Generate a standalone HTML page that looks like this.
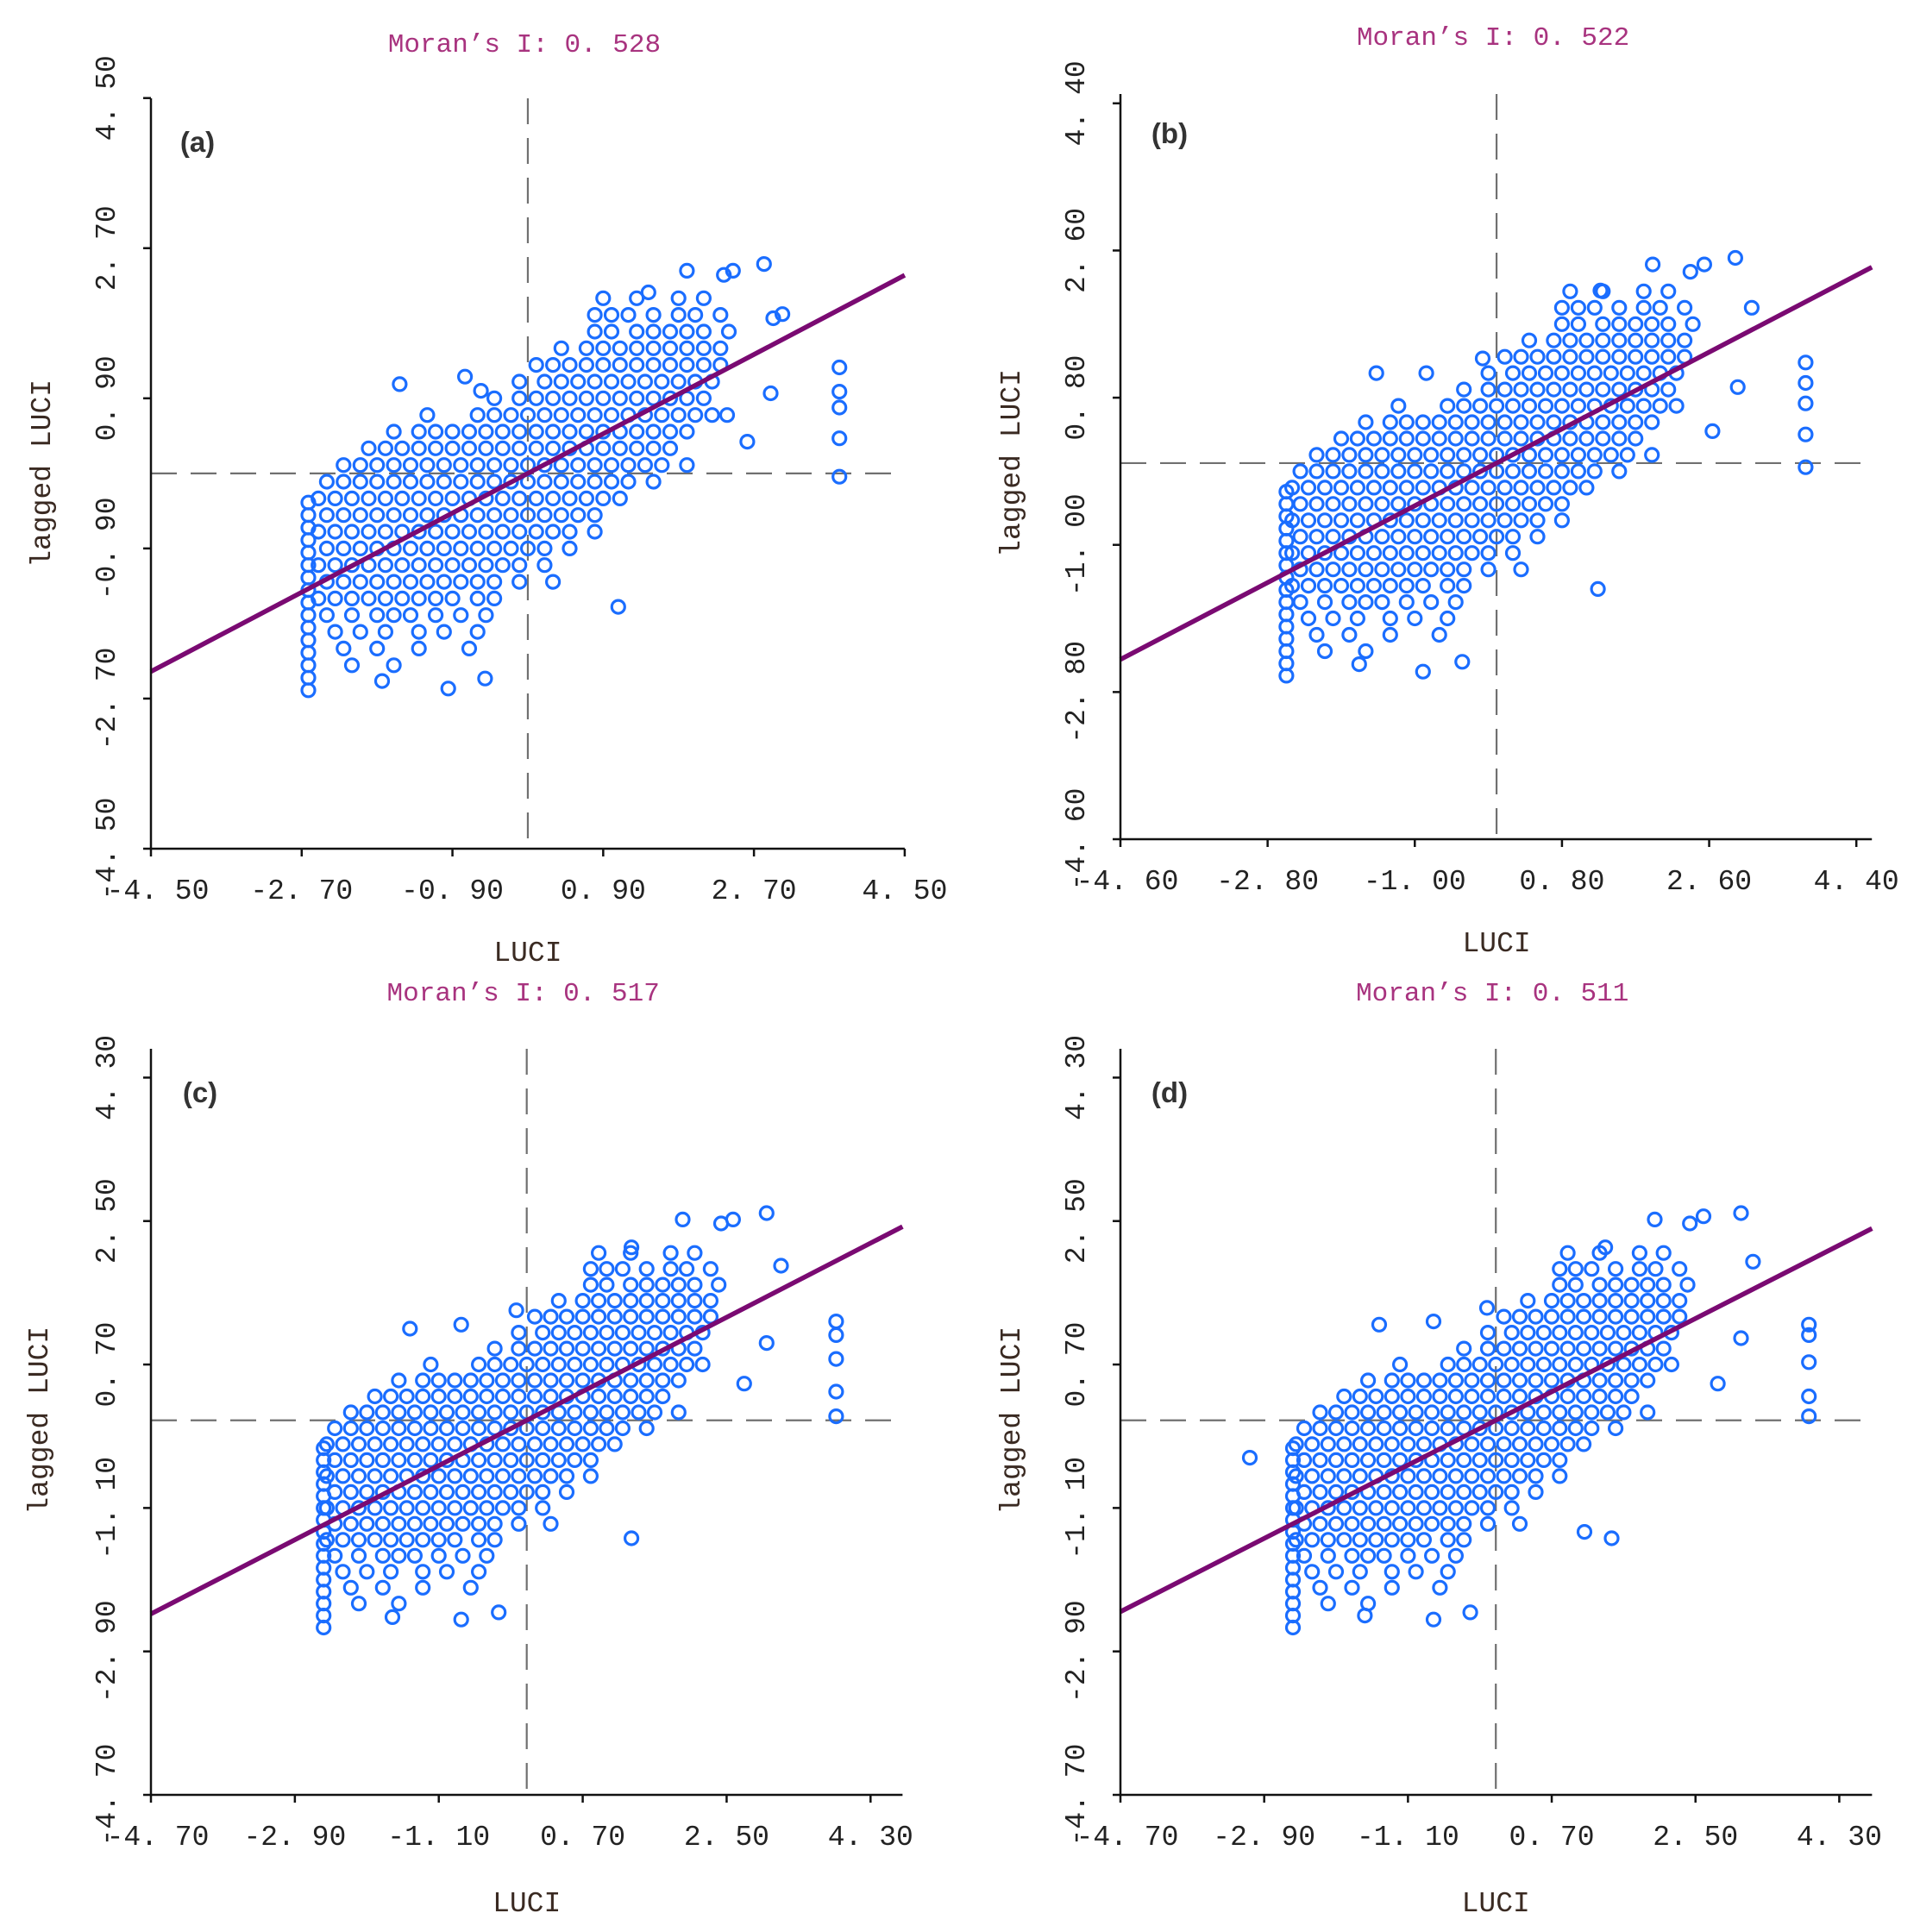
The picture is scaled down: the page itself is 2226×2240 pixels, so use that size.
<!DOCTYPE html>
<html><head><meta charset="utf-8">
<style>
html,body{margin:0;padding:0;background:#fff;}
svg{display:block;}
text{font-family:"Liberation Mono","Noto Sans CJK SC",monospace;}
</style></head>
<body>
<svg id="fig" width="2226" height="2240" viewBox="0 0 2226 2240" xmlns="http://www.w3.org/2000/svg"></svg>
<script>
// ---- data (data units) ----
const panelIds = ['a','b','c','d'];
const moranValues = [0.528, 0.522, 0.517, 0.511];
const moranLabels = ['0. 528','0. 522','0. 517','0. 511'];
const tickLabelsA = ['-4. 50','-2. 70','-0. 90','0. 90','2. 70','4. 50'];
const tickValuesA = [-4.5,-2.7,-0.9,0.9,2.7,4.5];
const tickLabelsB = ['-4. 60','-2. 80','-1. 00','0. 80','2. 60','4. 40'];
const tickValuesB = [-4.6,-2.8,-1.0,0.8,2.6,4.4];
const tickLabelsCD = ['-4. 70','-2. 90','-1. 10','0. 70','2. 50','4. 30'];
const tickValuesCD = [-4.7,-2.9,-1.1,0.7,2.5,4.3];

// dense core cloud, rows of y with x values
const bodyRowY = [2.1,1.9,1.7,1.5,1.3,1.1,0.9,0.7,0.5,0.3,0.1,-0.1,-0.3,-0.5,-0.7,-0.9,-1.1,-1.3,-1.5,-1.7,-1.9,-2.1,-2.3];
const bodyRowX = [
 [0.9,1.3,1.8,2.1],
 [0.8,1.0,1.2,1.5,1.8,2.0,2.3],
 [0.8,1.0,1.3,1.5,1.7,1.9,2.1,2.4],
 [0.4,0.7,0.9,1.1,1.3,1.5,1.7,1.9,2.1,2.3],
 [0.1,0.3,0.5,0.7,0.9,1.1,1.3,1.5,1.7,1.9,2.1,2.3],
 [-0.1,0.2,0.4,0.6,0.8,1.0,1.2,1.4,1.6,1.8,2.0,2.2],
 [-0.4,-0.1,0.1,0.3,0.5,0.7,0.9,1.1,1.3,1.5,1.7,1.9,2.1],
 [-1.2,-0.6,-0.4,-0.2,0,0.2,0.4,0.6,0.8,1.0,1.2,1.4,1.6,1.8,2.0,2.2],
 [-1.6,-1.3,-1.1,-0.9,-0.7,-0.5,-0.3,-0.1,0.1,0.3,0.5,0.7,0.9,1.1,1.3,1.5,1.7,1.9],
 [-1.9,-1.7,-1.5,-1.3,-1.1,-0.9,-0.7,-0.5,-0.3,-0.1,0.1,0.3,0.5,0.7,0.9,1.1,1.3,1.5,1.7],
 [-2.2,-2.0,-1.8,-1.6,-1.4,-1.2,-1.0,-0.8,-0.6,-0.4,-0.2,0,0.2,0.4,0.6,0.8,1.0,1.2,1.4,1.6,1.9],
 [-2.4,-2.2,-2.0,-1.8,-1.6,-1.4,-1.2,-1.0,-0.8,-0.6,-0.4,-0.2,0,0.2,0.4,0.6,0.8,1.0,1.2,1.5],
 [-2.5,-2.3,-2.1,-1.9,-1.7,-1.5,-1.3,-1.1,-0.9,-0.7,-0.5,-0.3,-0.1,0.1,0.3,0.5,0.7,0.9,1.1],
 [-2.4,-2.2,-2.0,-1.8,-1.6,-1.4,-1.2,-1.0,-0.8,-0.6,-0.4,-0.2,0,0.2,0.4,0.6,0.8],
 [-2.5,-2.3,-2.1,-1.9,-1.7,-1.5,-1.3,-1.1,-0.9,-0.7,-0.5,-0.3,-0.1,0.1,0.3,0.5,0.8],
 [-2.4,-2.2,-2.0,-1.8,-1.6,-1.4,-1.2,-1.0,-0.8,-0.6,-0.4,-0.2,0,0.2,0.5],
 [-2.5,-2.3,-2.1,-1.9,-1.7,-1.5,-1.3,-1.1,-0.9,-0.7,-0.5,-0.3,-0.1,0.2],
 [-2.4,-2.2,-2.0,-1.8,-1.6,-1.4,-1.2,-1.0,-0.8,-0.6,-0.4,-0.1,0.3],
 [-2.5,-2.3,-2.1,-1.9,-1.7,-1.5,-1.3,-1.1,-0.9,-0.6,-0.4],
 [-2.4,-2.1,-1.8,-1.6,-1.4,-1.1,-0.8,-0.5],
 [-2.3,-2.0,-1.7,-1.3,-1.0,-0.6],
 [-2.2,-1.8,-1.3,-0.7],
 [-2.1,-1.6]
];
// vertical column of minimum-value points
const columnX = [-2.62, -2.57, -2.54, -2.54];
const columnY = [-0.35,-0.5,-0.65,-0.8,-0.95,-1.1,-1.25,-1.4,-1.55,-1.7,-1.85,-2.0,-2.15,-2.3,-2.45,-2.6];
// per-panel outliers
const outA_x = [-1.53,-0.75,-0.56,1.08,-1.74,-0.95,-0.51,1.9,2.34,2.45,2.82,1.44,3.04,2.93,2.9,2.62,2.38,3.72,3.72,3.72,3.72,3.72];
const outA_y = [1.07,1.16,0.99,-1.6,-2.49,-2.58,-2.46,2.43,2.38,2.43,2.51,2.17,1.91,1.86,0.96,0.38,0.7,1.27,0.98,0.79,0.42,-0.04];
const outB_x = [-1.47,-0.86,-0.17,1.24,-1.68,-0.9,-0.42,1.91,2.37,2.54,2.92,1.27,3.12,2.95,2.64,3.78,3.78,3.78,3.78,3.78];
const outB_y = [1.1,1.1,1.28,-1.54,-2.46,-2.55,-2.43,2.43,2.34,2.43,2.51,2.11,1.9,0.93,0.39,1.23,0.98,0.73,0.35,-0.05];
const outC_x = [-1.46,-0.82,-0.13,1.31,-1.68,-0.82,-0.35,1.95,2.43,2.58,3.0,1.31,3.18,3.0,2.72,3.87,3.87,3.87,3.87,3.87];
const outC_y = [1.15,1.2,1.38,-1.48,-2.47,-2.5,-2.41,2.52,2.47,2.52,2.6,2.17,1.94,0.97,0.46,1.24,1.07,0.77,0.36,0.05];
const outD_x = [-3.08,-1.46,-0.78,-0.11,1.11,1.45,-1.64,-0.78,-0.32,1.99,2.43,2.6,3.07,1.37,3.22,3.07,2.78,3.92,3.92,3.92,3.92,3.92];
const outD_y = [-0.47,1.2,1.24,1.41,-1.4,-1.48,-2.45,-2.5,-2.41,2.52,2.47,2.56,2.6,2.17,1.99,1.03,0.46,1.2,1.07,0.73,0.3,0.05];

// ---- layout (pixels) ----
const layouts = [
 {x0:175, axY:984, xmin:-4.5, xmax:4.5, ymin:-4.5, sx:97.1, sy:96.7, topY:114, titleY:60, letterX:229, letterY:176, xlabY:1114, ylabX:46},
 {x0:1299, axY:973, xmin:-4.6, xmax:4.59, ymin:-4.6, sx:94.8, sy:94.8, topY:109, titleY:52, letterX:1356, letterY:166, xlabY:1103, ylabX:1170},
 {x0:175, axY:2081, xmin:-4.7, xmax:4.7, ymin:-4.7, sx:92.7, sy:92.4, topY:1216, titleY:1160, letterX:232, letterY:1278, xlabY:2216, ylabX:43},
 {x0:1299, axY:2081, xmin:-4.7, xmax:4.71, ymin:-4.7, sx:92.6, sy:92.4, topY:1216, titleY:1160, letterX:1356, letterY:1278, xlabY:2216, ylabX:1170}
];
const tickSets = [[tickValuesA,tickLabelsA],[tickValuesB,tickLabelsB],[tickValuesCD,tickLabelsCD],[tickValuesCD,tickLabelsCD]];
const outXs = [outA_x,outB_x,outC_x,outD_x];
const outYs = [outA_y,outB_y,outC_y,outD_y];

const NS = 'http://www.w3.org/2000/svg';
const svg = document.getElementById('fig');
function mk(tag, attrs, parent){
  const e = document.createElementNS(NS, tag);
  for (const k in attrs) e.setAttribute(k, attrs[k]);
  parent.appendChild(e);
  return e;
}

panelIds.forEach((id, p) => {
  const L = layouts[p];
  const X = v => L.x0 + (v - L.xmin) * L.sx;
  const Y = v => L.axY - (v - L.ymin) * L.sy;
  const g = mk('g', {}, svg);
  
  

  const xRight = X(L.xmax);
  const vd = mk('line', {x1:X(0), y1:L.topY, x2:X(0), y2:L.axY, stroke:'#707070', 'stroke-width':2.2, 'stroke-dasharray':'30 16'}, g);
  
  
  const hd = mk('line', {x1:L.x0, y1:Y(0), x2:xRight, y2:Y(0), stroke:'#707070', 'stroke-width':2.2, 'stroke-dasharray':'30 16'}, g);
  
  

  const pts = mk('g', {fill:'none', stroke:'#1a6dff', 'stroke-width':3.2}, g);
  
  
  const addPt = (x, y) => {
    const c = mk('circle', {cx:X(x).toFixed(1), cy:Y(y).toFixed(1), r:7.5}, pts);
    
    
  };
  bodyRowY.forEach((y, i) => bodyRowX[i].forEach(x => addPt(x, y)));
  columnY.forEach(y => addPt(columnX[p], y));
  outXs[p].forEach((x, i) => addPt(x, outYs[p][i]));

  const m = moranValues[p];
  const rl = mk('line', {x1:X(L.xmin), y1:Y(m*L.xmin), x2:xRight, y2:Y(m*L.xmax), stroke:'#7a0a72', 'stroke-width':5.5}, g);
  
  

  const ax = mk('path', {d:`M${L.x0} ${L.topY} V${L.axY} H${xRight}`, fill:'none', stroke:'#111', 'stroke-width':2.5}, g);
  
  

  const [tv, tl] = tickSets[p];
  tv.forEach((v, i) => {
    const xt = mk('line', {x1:X(v), y1:L.axY, x2:X(v), y2:L.axY+9, stroke:'#111', 'stroke-width':2.5}, g);
    
    
    const xl = mk('text', {x:X(v)+(i===0?8:0), y:L.axY+58, 'font-size':33, 'text-anchor':'middle', fill:'#222'}, g);
    xl.textContent = tl[i];
    
    
    const yt = mk('line', {x1:L.x0-9, y1:Y(v), x2:L.x0, y2:Y(v), stroke:'#111', 'stroke-width':2.5}, g);
    
    
    const yl = mk('text', {x:0, y:0, 'font-size':33, 'text-anchor':'middle', fill:'#222', transform:`translate(${L.x0-42},${Y(v)}) rotate(-90)`}, g);
    yl.textContent = tl[i];
    
    
  });

  const title = mk('text', {x:X(0)-4, y:L.titleY, 'font-size':31, 'text-anchor':'middle', fill:'#a8337f'}, g);
  title.textContent = "Moran’s I: " + moranLabels[p];
  
  

  const letter = mk('text', {x:L.letterX, y:L.letterY, 'font-size':33, 'font-weight':'bold', 'text-anchor':'middle', fill:'#333', style:'font-family:"Liberation Sans",sans-serif'}, g);
  letter.textContent = '(' + id + ')';
  
  

  const xlab = mk('text', {x:X(0), y:L.xlabY, 'font-size':33, 'text-anchor':'middle', fill:'#3a2a22'}, g);
  xlab.textContent = 'LUCI';
  
  

  const ylab = mk('text', {x:0, y:0, 'font-size':33, 'text-anchor':'middle', fill:'#3a2a22', transform:`translate(${L.ylabX+12},${Y(0)}) rotate(-90)`}, g);
  ylab.textContent = 'lagged LUCI';
  
  
});
</script>
</body></html>
